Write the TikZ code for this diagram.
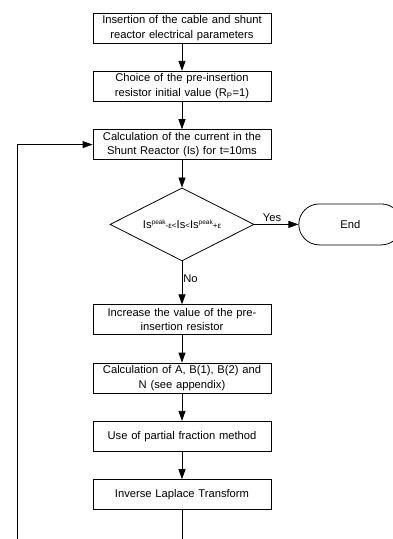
\documentclass[tikz,border=0pt]{standalone}
\usepackage{fontspec}
\setmainfont{Liberation Sans}
\usepackage{tikz}
\usetikzlibrary{shapes, arrows.meta, calc, positioning}
\tikzstyle{process} = [rectangle, minimum width=178pt, minimum height=30pt, inner sep=2pt, text centered, draw=black, align=center, text width=174pt]
\tikzstyle{decision} = [diamond, minimum width=144pt, minimum height=73pt, inner sep=0pt, aspect=1.97, text centered, draw=black, align=center]
\tikzstyle{arrow} = [->, >={Triangle[length=10pt,width=7pt]}]
\tikzstyle{startstop} = [rectangle, rounded corners=20.5pt, minimum width=103pt, minimum height=41pt, text centered, draw=black]
\newcommand{\peakpart}{{\fontsize{6.5}{7}\selectfont\raisebox{3.5pt}{peak}}}
\newcommand{\relpart}[1]{{\fontsize{8}{9}\selectfont #1}}

\begin{document}
\begin{tikzpicture}[line width=0.8pt, node distance=27.5pt, font=\fontsize{11.2}{14.5}\selectfont]
    \clip (0pt,0pt) rectangle (393pt,-539pt);
    \node (Insert) [process] at (182pt,-28pt) {Insertion of the cable and shunt\\reactor electrical parameters};
    \node (Choice) [process, below = of Insert] {Choice of the pre-insertion\\resistor initial value (R\textsubscript{P}=1)};
    \node (Current) [process, below = of Choice] {Calculation of the current in the\\Shunt Reactor (Is) for t=10ms};
    \node (Check) [decision, below = of Current] {Is\peakpart\relpart{-ε<}Is\relpart{<}Is\peakpart\relpart{+ε}};
    \node (Stop) [startstop, right = 44pt of Check] {End};
    \node (Increase) [process, below = 43pt of Check] {Increase the value of the pre-\\insertion resistor};
    \node (Coeffs) [process, below = of Increase] {Calculation of A, B(1), B(2) and\\N (see appendix)};
    \node (Fraction) [process, below = of Coeffs] {Use of partial fraction method};
    \node (Laplace) [process, below = of Fraction] {Inverse Laplace Transform};
    \coordinate (LoopCorner) at (17.5pt,-600pt);
    \draw [arrow] (Insert) -- (Choice);
    \draw [arrow] (Choice) -- (Current);
    \draw [arrow] (Current) -- (Check);
    \draw [arrow] (Check.east) -- node[above, pos=0.4, inner sep=2pt]{Yes} (Stop);
    \draw [arrow] (Check.south) -- node[right, pos=0.4, inner sep=1pt]{No} (Increase);
    \draw [arrow] (Increase) -- (Coeffs);
    \draw [arrow] (Coeffs) -- (Fraction);
    \draw [arrow] (Fraction) -- (Laplace);
    \draw [arrow] (Laplace.south) |- (LoopCorner) |- (Current.west);
\end{tikzpicture}
\end{document}
